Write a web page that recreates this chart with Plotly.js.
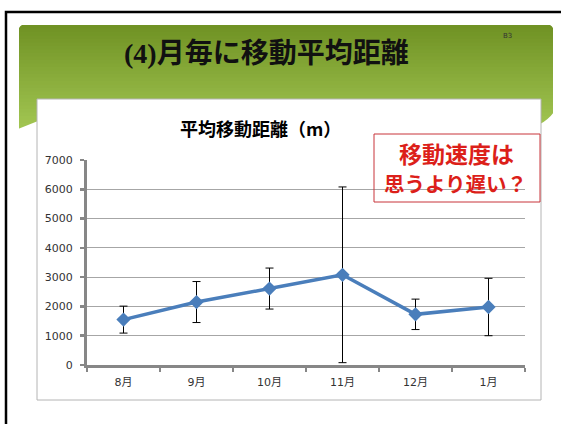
<!DOCTYPE html>
<html>
<head>
<meta charset="utf-8">
<script src="https://cdn.plot.ly/plotly-3.0.1.min.js"></script>
<style>html,body{margin:0;padding:0;background:#fff;}#chart{width:561px;height:424px;}</style>
</head>
<body>
<div id="chart"></div>
<script>
// ---- data ----
const months = ['8月', '9月', '10月', '11月', '12月', '1月'];
const meanDistance = [1550, 2150, 2610, 3080, 1730, 1980];
const errorDistance = [460, 700, 700, 3000, 520, 980];
const yTickValues = [0, 1000, 2000, 3000, 4000, 5000, 6000, 7000];
const slideTitle = '(4)月毎に移動平均距離';
const chartTitle = '平均移動距離（m）';
const calloutLines = ['移動速度は', '思うより遅い？'];
const slideNumber = 'B3';

// ---- pixel helpers (plot area: x 87..525, y 160..365) ----
const L = 87, T = 160, W = 438, H = 205;
const px = x => (x - L) / W;
const py = y => (T + H - y) / H;
const P = (x, y) => px(x) + ',' + py(y);

const shapes = [];
// outer black frame (left + top)
shapes.push({type:'rect', xref:'paper', yref:'paper', x0:px(6), x1:px(700), y0:py(12), y1:py(600),
  line:{color:'#000', width:2.5}, fillcolor:'rgba(0,0,0,0)', layer:'below'});
// green header with vertical gradient (stacked overlapping bands, no gaps)
const gTop = 25, gBot = 130, nB = 30;
const c0 = [112, 146, 36], c1 = [162, 198, 82];
for (let i = 0; i < nB; i++) {
  const t = i / (nB - 1);
  const c = c0.map((v, k) => Math.round(v + (c1[k] - v) * t));
  const ya = gTop + (gBot - gTop) * i / nB;
  shapes.push({type:'rect', xref:'paper', yref:'paper', x0:px(19), x1:px(553), y0:py(ya), y1:py(gBot),
    line:{width:0}, fillcolor:'rgb(' + c.join(',') + ')', layer:'below'});
}
// rounded corner masks and slanted bottom cuts
shapes.push({type:'path', xref:'paper', yref:'paper', layer:'below', line:{width:0}, fillcolor:'#fff',
  path:'M' + P(18,24) + 'L' + P(25,24) + 'Q' + P(19,25) + ' ' + P(18,31) + 'Z'});
shapes.push({type:'path', xref:'paper', yref:'paper', layer:'below', line:{width:0}, fillcolor:'#fff',
  path:'M' + P(554,24) + 'L' + P(547,24) + 'Q' + P(553,25) + ' ' + P(554,31) + 'Z'});
shapes.push({type:'path', xref:'paper', yref:'paper', layer:'below', line:{width:0}, fillcolor:'#fff',
  path:'M' + P(18,129) + 'L' + P(38,121) + 'L' + P(38,140) + 'L' + P(18,140) + 'Z'});
shapes.push({type:'path', xref:'paper', yref:'paper', layer:'below', line:{width:0}, fillcolor:'#fff',
  path:'M' + P(540,124) + 'Q' + P(548,120) + ' ' + P(554,112) + 'L' + P(556,140) + 'L' + P(540,140) + 'Z'});
// white chart box
shapes.push({type:'rect', xref:'paper', yref:'paper', x0:px(37), x1:px(541), y0:py(99), y1:py(400),
  line:{color:'#b4b4b4', width:1}, fillcolor:'#fff', layer:'below'});
// callout box (transparent)
shapes.push({type:'rect', xref:'paper', yref:'paper', x0:px(374), x1:px(540), y0:py(134), y1:py(202),
  line:{color:'#c8343a', width:1}, fillcolor:'rgba(0,0,0,0)', layer:'above'});

const annotations = [
  {text:slideTitle, xref:'paper', yref:'paper', x:px(266), y:py(53), xanchor:'center', yanchor:'middle', showarrow:false,
   font:{family:'Liberation Serif, Noto Sans CJK JP', size:28, color:'#111', weight:'bold'}},
  {text:slideNumber, xref:'paper', yref:'paper', x:px(507), y:py(36), xanchor:'center', yanchor:'middle', showarrow:false,
   font:{family:'DejaVu Sans', size:7, color:'#333'}},
  {text:chartTitle, xref:'paper', yref:'paper', x:px(260), y:py(128), xanchor:'center', yanchor:'middle', showarrow:false,
   font:{family:'Noto Sans CJK JP', size:18, color:'#000', weight:'bold'}},
  {text:calloutLines[0], xref:'paper', yref:'paper', x:px(456), y:py(153), xanchor:'center', yanchor:'middle', showarrow:false,
   font:{family:'Noto Sans CJK JP', size:23, color:'#dc1f1a', weight:'bold'}},
  {text:calloutLines[1], xref:'paper', yref:'paper', x:px(455), y:py(183), xanchor:'center', yanchor:'middle', showarrow:false,
   font:{family:'Noto Sans CJK JP', size:20.5, color:'#dc1f1a', weight:'bold'}}
];

const trace = {
  type:'scatter', mode:'lines+markers', x:months, y:meanDistance,
  line:{color:'#4a7ebb', width:3.5},
  marker:{symbol:'diamond', size:11, color:'#4a7ebb'},
  error_y:{type:'data', array:errorDistance, visible:true, color:'#000', thickness:1, width:4},
  cliponaxis:false, hoverinfo:'skip', showlegend:false
};

const axisGray = '#878787';
const layout = {
  width:561, height:424,
  margin:{l:L, r:561 - L - W, t:T, b:424 - T - H, pad:0},
  paper_bgcolor:'#fff', plot_bgcolor:'rgba(0,0,0,0)',
  showlegend:false,
  xaxis:{type:'category', range:[-0.5, 5.5], showline:true, linecolor:axisGray, linewidth:3,
    ticks:'outside', tickson:'boundaries', ticklen:4, tickwidth:2.5, tickcolor:axisGray,
    showgrid:false, zeroline:false, fixedrange:true, ticklabelstandoff:5,
    tickfont:{family:'DejaVu Sans, Noto Sans CJK JP', size:11, color:'#333'}},
  yaxis:{range:[0, 7000], tickvals:yTickValues, ticktext:yTickValues.map(String),
    showline:true, linecolor:axisGray, linewidth:3,
    ticks:'outside', ticklen:4, tickwidth:2.5, tickcolor:axisGray,
    showgrid:true, gridcolor:'#a6a6a6', gridwidth:1, zeroline:false, fixedrange:true, ticklabelstandoff:5,
    tickfont:{family:'DejaVu Sans', size:11, color:'#333'}},
  shapes:shapes, annotations:annotations
};

Plotly.newPlot('chart', [trace], layout, {staticPlot:true, displayModeBar:false});
</script>
</body>
</html>
